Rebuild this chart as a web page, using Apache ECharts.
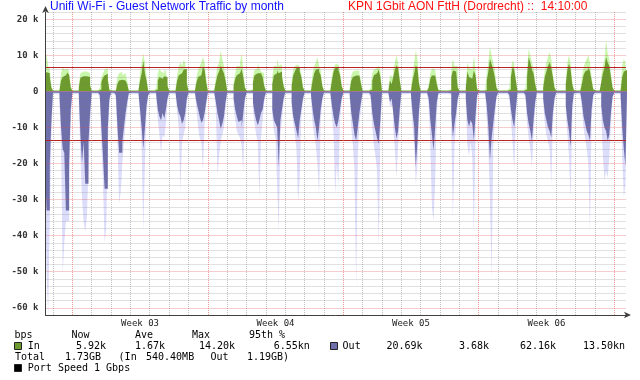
<!DOCTYPE html>
<html><head><meta charset="utf-8">
<script src="https://cdn.jsdelivr.net/npm/echarts@6/dist/echarts.min.js"></script>
<style>html,body{margin:0;padding:0;background:#fff}#c{width:640px;height:380px}</style>
</head><body><div id="c"></div>
<script>
// ---- data (values in k bps). Each value is the 2-hour average ending at that hour of the day ----
const sampleHours = [0, 2, 4, 6, 8, 10, 12, 14, 16, 18, 20, 22];
// day index: 0 = Sunday before Week 03, 1 = Monday of Week 03 ... 29 = Monday of Week 07
const dayIndex = [-1,0,1,2,3,4,5,6,7,8,9,10,11,12,13,14,15,16,17,18,19,20,21,22,23,24,25,26,27,28,29];
const weekLabels = ['Week 03', 'Week 04', 'Week 05', 'Week 06'];
const yTicks = [20, 10, 0, -10, -20, -30, -40, -50, -60];
const pct95 = [6.55, -13.5];

const inAvg = [
[0.2,0.2,0.2,0.2,0.2,0.2,0.2,0.2,4,5.4,5,4],
[1,0.2,0.2,0.2,0.2,0.5,3,4,4.5,4.8,5.2,4.5],
[1,0.2,0.2,0.2,0.2,1,3.8,4.2,4.4,4.2,4.3,4],
[1.5,0.2,0.2,0.2,0.2,0.2,0.5,2.5,3.8,4.4,4.9,3],
[0.3,0.2,0.2,0.2,0.3,2.2,3,3.2,3.2,3,3.2,2],
[0.2,0.2,0.2,0.2,0.2,0.2,0.3,3,5,8.4,5,3],
[0.2,0.2,0.2,0.2,0.2,0.5,3,4,3.5,3,4.2,4],
[1.5,0.2,0.2,0.2,0.2,0.5,3,4.5,5,5,6,6.3],
[2,0.2,0.2,0.2,0.2,0.3,2.5,4,4.5,5,6.8,6],
[2.5,0.2,0.2,0.2,0.2,0.3,2.5,4.5,5.5,7.2,6,5],
[3,0.2,0.2,0.2,0.2,1.5,3.5,4.5,5,5.5,6.3,4],
[1,0.2,0.2,0.2,0.3,2.5,4.5,5,5.4,5,4.5,4],
[1.5,0.2,0.2,0.2,0.2,2,4.5,5,5.8,5,5.5,4],
[1.5,0.2,0.2,0.2,0.2,1.5,4.5,5.5,6.5,6.8,5.5,4],
[1,0.2,0.2,0.2,0.2,0.5,3,5,6,6.3,5.5,4.5],
[1.5,0.2,0.2,0.2,0.2,0.5,3,5.5,6.5,6.8,6,4.5],
[1.5,0.2,0.2,0.2,0.2,0.5,3,4,4.4,4.2,4.4,4],
[2,0.2,0.2,0.2,0.2,0.2,0.5,3,4.5,5,5.5,6],
[4,0.2,0.2,0.2,0.2,0.5,3,2,4,6,7.2,6.5],
[3,0.2,0.2,0.2,0.2,0.2,0.2,0.5,3,5,7.2,6.5],
[2,0.2,0.2,0.2,0.2,0.2,1,3.5,4.4,4.4,4,2],
[0.3,0.2,0.2,0.2,0.2,0.2,0.2,0.3,4,5.8,5.5,5],
[1,0.2,0.2,0.2,0.2,1,5.5,4,3.5,4,5.8,4.5],
[0.5,0.2,0.2,0.2,0.2,0.3,3,5.5,9,7.5,6,4],
[1,0.2,0.2,0.2,0.2,0.2,0.2,0.2,0.5,4,6.8,6],
[3,0.2,0.2,0.2,0.2,0.2,0.5,4,9.5,8,6,5],
[2,0.2,0.2,0.2,0.2,1,4,5.5,7,8.1,6.5,4],
[1,0.2,0.2,0.2,0.2,0.2,0.2,2,6,7.7,6,2],
[0.3,0.2,0.2,0.2,0.2,2,4.5,5.5,6,6.8,5.5,3],
[0.5,0.2,0.2,0.2,0.2,2.5,5,6.5,9.5,8,7,4],
[1,0.2,0.2,0.2,0.2,0.5,4,5.5,5.92,null,null,null]
];
const inMax = [
[0.4,0.4,0.4,0.4,0.4,0.4,0.4,0.4,6,10.5,7,6],
[1.5,0.4,0.4,0.4,0.4,1,5,6.7,6,6.3,6.7,5.5],
[1.5,0.4,0.4,0.4,0.4,2,5,5.5,5.8,5.5,5.8,5],
[2,0.4,0.4,0.4,0.4,0.4,1,4,5,6,6.4,4],
[0.5,0.4,0.4,0.4,1,4,5,5.4,4.5,5,4.5,3],
[0.4,0.4,0.4,0.4,0.4,0.4,0.5,5,8,10.5,8,4],
[0.4,0.4,0.4,0.4,0.4,1,5,6.3,5.5,5,6.3,5.5],
[2,0.4,0.4,0.4,0.4,1,4.5,7,8,7,8.6,8],
[3,0.4,0.4,0.4,0.4,0.5,4,6,7,8,9.5,8],
[3.5,0.4,0.4,0.4,0.4,0.5,4,7,8,11.4,9,7],
[4,0.4,0.4,0.4,0.4,2.5,5,7,7,8,10.5,6],
[1.5,0.4,0.4,0.4,0.5,4,6,6.4,8,6.4,5.5,5],
[2,0.4,0.4,0.4,0.4,4,7,7,9,7,7.5,5],
[2,0.4,0.4,0.4,0.4,3,6,7,7.5,7.2,6.5,5],
[1.5,0.4,0.4,0.4,0.4,1,5,7,8,9.5,7,6],
[2,0.4,0.4,0.4,0.4,1,4.5,6.5,7.5,7.5,7,5.5],
[2,0.4,0.4,0.4,0.4,1,4.5,5.5,5.8,5.5,5.8,5],
[3,0.4,0.4,0.4,0.4,0.4,1,5,6,6.5,7,7.2],
[5.5,0.4,0.4,0.4,0.4,1,4.5,4,6,8,10,8],
[4,0.4,0.4,0.4,0.4,0.4,0.4,1,5,8,11.4,9],
[3,0.4,0.4,0.4,0.4,0.4,2,5,6.4,6,5.5,3],
[0.5,0.4,0.4,0.4,0.4,0.4,0.4,0.5,6,9,7,7],
[2,0.4,0.4,0.4,0.4,2,8,6.5,6,6.5,9.5,6],
[1,0.4,0.4,0.4,0.4,0.5,5,8,12.5,10,8,6],
[1.5,0.4,0.4,0.4,0.4,0.4,0.4,0.4,1,6,8.6,7.5],
[4,0.4,0.4,0.4,0.4,0.4,1,6,11.9,10,8,6.5],
[3,0.4,0.4,0.4,0.4,2,6,8,9.5,11,9,5],
[1.5,0.4,0.4,0.4,0.4,0.4,0.4,3,8,10,8,3],
[0.5,0.4,0.4,0.4,0.4,4,6.5,8,9,10,8,4],
[1,0.4,0.4,0.4,0.4,4,7,9,14.2,10.5,9,5],
[1.5,0.4,0.4,0.4,0.4,1,7,9,8,null,null,null]
];
const outAvg = [
[-0.4,-0.4,-0.4,-0.4,-0.4,-0.4,-0.4,-0.4,-20,-33,-33,-20],
[-8,-0.4,-0.4,-0.4,-0.4,-1,-10,-16,-17,-33,-33,-20],
[-5,-0.4,-0.4,-0.4,-0.4,-1,-12,-19.9,-14,-25.6,-25.6,-14],
[-6,-0.4,-0.4,-0.4,-0.4,-0.4,-1,-10,-18,-27,-27,-10],
[-2,-0.4,-0.4,-0.4,-1,-10,-17,-17,-14,-10,-6,-3],
[-0.5,-0.4,-0.4,-0.4,-0.4,-0.4,-0.5,-5,-10,-16,-10,-4],
[-1,-0.4,-0.4,-0.4,-0.4,-1,-5,-7,-8,-6,-7.5,-5],
[-2,-0.4,-0.4,-0.4,-0.4,-0.5,-4,-6,-7,-9,-8,-6],
[-2,-0.4,-0.4,-0.4,-0.4,-0.5,-3,-5,-7,-8.7,-8,-6],
[-3,-0.4,-0.4,-0.4,-0.4,-0.5,-3,-6,-8,-10.4,-9,-7],
[-3,-0.4,-0.4,-0.4,-0.4,-2,-5,-7,-8.5,-8,-10,-6],
[-2,-0.4,-0.4,-0.4,-0.4,-3,-6,-8,-9.4,-8,-6,-5],
[-2,-0.4,-0.4,-0.4,-0.4,-5,-8,-9,-10,-21,-8,-5],
[-2,-0.4,-0.4,-0.4,-0.4,-3,-7,-9,-11,-13,-8,-5],
[-2,-0.4,-0.4,-0.4,-0.4,-1,-5,-8,-10,-13.6,-10,-5],
[-2,-0.4,-0.4,-0.4,-0.4,-0.5,-4,-7,-9,-10,-8,-5],
[-2,-0.4,-0.4,-0.4,-0.4,-1,-6,-9,-12,-13.6,-10,-6],
[-3,-0.4,-0.4,-0.4,-0.4,-0.4,-1,-6,-9,-11,-13,-14.5],
[-8,-0.4,-0.4,-0.4,-0.4,-0.5,-3,-2,-6,-10,-13,-11],
[-5,-0.4,-0.4,-0.4,-0.4,-0.4,-0.4,-1,-6,-10,-21,-14],
[-5,-0.4,-0.4,-0.4,-0.4,-0.4,-2,-8,-12,-16.4,-10,-3],
[-0.5,-0.4,-0.4,-0.4,-0.4,-0.4,-0.4,-0.5,-6,-12.7,-9,-6],
[-2,-0.4,-0.4,-0.4,-0.4,-2,-8,-9.8,-8,-9,-13.6,-7],
[-1,-0.4,-0.4,-0.4,-0.4,-0.4,-4,-10,-19,-13,-9,-5],
[-1.5,-0.4,-0.4,-0.4,-0.4,-0.4,-0.4,-0.4,-1,-5,-8,-10],
[-5,-0.4,-0.4,-0.4,-0.4,-0.4,-1,-6,-9,-11,-13.6,-8],
[-3,-0.4,-0.4,-0.4,-0.4,-2,-6,-8,-10,-11,-12.8,-6],
[-2,-0.4,-0.4,-0.4,-0.4,-0.4,-0.4,-4,-8,-11,-15.4,-4],
[-0.5,-0.4,-0.4,-0.4,-0.4,-3,-7,-9,-11,-12,-13.6,-5],
[-1,-0.4,-0.4,-0.4,-0.4,-4,-8,-10,-11,-13.6,-12,-6],
[-1.5,-0.4,-0.4,-0.4,-0.4,-1,-10,-16,-20.69,null,null,null]
];
const outMax = [
[-0.8,-0.8,-0.8,-0.8,-0.8,-0.8,-0.8,-0.8,-30,-50,-62.16,-35],
[-12,-0.8,-0.8,-0.8,-0.8,-3,-15,-50.5,-42,-36,-36,-25],
[-8,-0.8,-0.8,-0.8,-0.8,-3,-18,-30,-36,-39,-35,-22],
[-10,-0.8,-0.8,-0.8,-0.8,-0.8,-2,-15,-25,-42,-38,-15],
[-3,-0.8,-0.8,-0.8,-2,-14,-31,-28,-20,-14,-9,-5],
[-1,-0.8,-0.8,-0.8,-0.8,-0.8,-1,-8,-16,-39,-20,-6],
[-1.5,-0.8,-0.8,-0.8,-0.8,-2,-8,-12,-17,-12,-13,-9],
[-3,-0.8,-0.8,-0.8,-0.8,-1,-6,-10,-28,-14,-12,-10],
[-3,-0.8,-0.8,-0.8,-0.8,-1,-5,-10,-13,-14,-22,-9],
[-4,-0.8,-0.8,-0.8,-0.8,-1,-5,-23.3,-18,-14,-12,-10],
[-5,-0.8,-0.8,-0.8,-0.8,-4,-8,-11,-12,-13,-15,-22.8],
[-3,-0.8,-0.8,-0.8,-0.8,-5,-9,-12,-14,-30,-13,-8],
[-3,-0.8,-0.8,-0.8,-0.8,-7,-11,-13,-26,-39,-12,-8],
[-3,-0.8,-0.8,-0.8,-0.8,-5,-9,-12,-16,-31,-24,-7],
[-3,-0.8,-0.8,-0.8,-0.8,-2,-9,-12,-15,-20,-29,-8],
[-3,-0.8,-0.8,-0.8,-0.8,-1,-7,-12,-28.6,-20,-26,-8],
[-3,-0.8,-0.8,-0.8,-0.8,-2,-10,-15,-22,-55,-18,-9],
[-5,-0.8,-0.8,-0.8,-0.8,-0.8,-2,-10,-15,-18,-22,-43.6],
[-12,-0.8,-0.8,-0.8,-0.8,-1,-4,-4,-10,-16,-24,-15],
[-8,-0.8,-0.8,-0.8,-0.8,-0.8,-0.8,-2,-10,-15,-25.7,-20],
[-8,-0.8,-0.8,-0.8,-0.8,-0.8,-4,-15,-32,-36,-25,-6],
[-1,-0.8,-0.8,-0.8,-0.8,-0.8,-0.8,-1,-10,-35.8,-15,-9],
[-3,-0.8,-0.8,-0.8,-0.8,-4,-15,-18,-14,-18,-39.5,-12],
[-2,-0.8,-0.8,-0.8,-0.8,-0.8,-8,-16,-30,-52.5,-16,-8],
[-2,-0.8,-0.8,-0.8,-0.8,-0.8,-0.8,-0.8,-2,-8,-14,-22],
[-8,-0.8,-0.8,-0.8,-0.8,-0.8,-2,-9,-13,-16,-21,-12],
[-5,-0.8,-0.8,-0.8,-0.8,-3,-9,-12,-14,-16,-25.7,-9],
[-3,-0.8,-0.8,-0.8,-0.8,-0.8,-0.8,-6,-12,-18,-30,-8],
[-1,-0.8,-0.8,-0.8,-0.8,-5,-10,-13,-16,-20,-39.5,-8],
[-2,-0.8,-0.8,-0.8,-0.8,-6,-18,-24.7,-22,-24,-18,-9],
[-2,-0.8,-0.8,-0.8,-0.8,-2,-18,-29.4,-26,null,null,null]
];

// ---- build [hour, value] pairs; hour 0 = Monday 00:00 of Week 03 ----
function toPairs(rows) {
  const out = [];
  rows.forEach((row, i) => {
    const base = (dayIndex[i] - 1) * 24;
    row.forEach((v, j) => { if (v !== null) out.push([base + sampleHours[j], v]); });
  });
  return out;
}
const X_MIN = -33.3, X_MAX = 686.7;
const midnights = dayIndex.map(d => (d - 1) * 24).filter(h => h > X_MIN);
const weekCenters = weekLabels.map((_, i) => 84 + i * 168);

const MONO = '"DejaVu Sans Mono", monospace';
// rrdtool-style translucent dotted grid, painted over the graph
const G = 'rgba(120,120,120,0.45)', R = 'rgba(222,79,79,0.57)';
const C_IN = '#6e9b2d', C_INMAX = '#c8f6aa', C_OUT = '#6f6fac', C_OUTMAX = '#dcdcfb';

const chart = echarts.init(document.getElementById('c'), null, {renderer: 'canvas'});
const areaSeries = (name, rows, color, z) => ({
  name, type: 'line', step: 'start', data: toPairs(rows), symbol: 'none', silent: true, z,
  lineStyle: {width: 0}, areaStyle: {color, opacity: 1}, animation: false
});
const txt = (t, x, y, align) => ({type: 'text', x, y, silent: true,
  style: {text: t, fill: '#000', font: '10px ' + MONO, align: align || 'left', verticalAlign: 'middle'}});
const box = (x, y, color) => ({type: 'rect', silent: true, shape: {x, y, width: 7, height: 7},
  style: {fill: color, stroke: '#222', lineWidth: 1}});

chart.setOption({
  animation: false,
  backgroundColor: '#ffffff',
  grid: {left: 45.5, top: 12, width: 580.5, height: 303, containLabel: false},
  xAxis: {
    type: 'value', min: X_MIN, max: X_MAX, z: 10,
    axisLine: {show: true, onZero: false, lineStyle: {color: '#404040', width: 1},
      symbol: ['none', 'arrow'], symbolSize: [5, 7], symbolOffset: [0, 5]},
    axisTick: {show: false, customValues: midnights},
    axisLabel: {
      customValues: weekCenters, color: '#222', fontFamily: MONO, fontSize: 9, margin: 4,
      formatter: v => weekLabels[Math.round((v - 84) / 168)]
    },
    splitLine: {show: true, lineStyle: {color: [G, R, G, G, G, G, G], type: [1, 1], width: 1}}
  },
  yAxis: {
    type: 'value', min: -62, max: 22, interval: 2, z: 10,
    axisLine: {show: true, onZero: false, lineStyle: {color: '#404040', width: 1},
      symbol: ['none', 'arrow'], symbolSize: [5, 7], symbolOffset: [0, 6]},
    axisTick: {show: false},
    axisLabel: {
      color: '#333', fontFamily: MONO, fontSize: 9, fontWeight: 'bold', margin: 7,
      formatter: v => (yTicks.indexOf(v) < 0 ? '' : (v === 0 ? '0' : v + ' k'))
    },
    splitLine: {show: true, lineStyle: {color: [G, R, G, G, G], type: [1, 1], width: 1}}
  },
  series: [
    areaSeries('In max', inMax, C_INMAX, 1),
    areaSeries('In', inAvg, C_IN, 2),
    areaSeries('Out max', outMax, C_OUTMAX, 1),
    areaSeries('Out', outAvg, C_OUT, 2),
    {
      type: 'line', data: [], silent: true, z: 5,
      markLine: {
        symbol: 'none', silent: true, animation: false, label: {show: false},
        lineStyle: {color: '#b82222', width: 1, type: 'solid'},
        data: pct95.map(v => ({yAxis: v}))
      }
    }
  ],
  graphic: [
    {type: 'text', left: 50, top: 1, style: {text: 'Unifi Wi-Fi - Guest Network Traffic by month', fill: '#1010ff', font: '12px "Liberation Sans", Arial'}},
    {type: 'text', left: 348, top: 1, style: {text: 'KPN 1Gbit AON FttH (Dordrecht) ::  14:10:00', fill: '#ff1010', font: '12px "Liberation Sans", Arial'}},
    txt('bps', 14.5, 335), txt('Now', 71.5, 335), txt('Ave', 135, 335), txt('Max', 192, 335), txt('95th %', 249, 335),
    box(14.5, 342.5, C_IN), txt('In', 27.8, 346),
    txt('5.92k', 91, 346, 'center'), txt('1.67k', 150, 346, 'center'), txt('14.20k', 217, 346, 'center'), txt('6.55kn', 291.7, 346, 'center'),
    box(330.5, 342.5, C_OUT), txt('Out', 342.6, 346),
    txt('20.69k', 404.5, 346, 'center'), txt('3.68k', 474, 346, 'center'), txt('62.16k', 538, 346, 'center'), txt('13.50kn', 604, 346, 'center'),
    txt('Total', 15, 357), txt('1.73GB', 65, 357), txt('(In', 118.6, 357), txt('540.40MB', 146, 357), txt('Out', 210.5, 357), txt('1.19GB)', 247, 357),
    box(14.5, 364.5, '#000'), txt('Port Speed 1 Gbps', 27.8, 368)
  ]
});
</script></body></html>
